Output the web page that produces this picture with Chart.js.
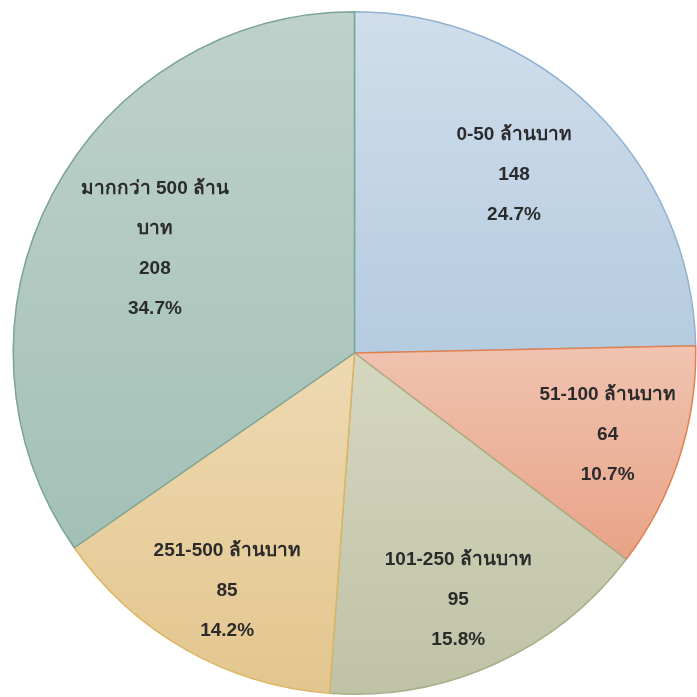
<!DOCTYPE html>
<html>
<head>
<meta charset="utf-8">
<script src="https://cdn.jsdelivr.net/npm/chart.js@4"></script>
<style>
  html, body { margin: 0; padding: 0; background: #fff; }
  #wrap { width: 697px; height: 697px; }
</style>
</head>
<body>
<div id="wrap"><canvas id="chart1"></canvas></div>
<script>
const categories = ['0-50 ล้านบาท', '51-100 ล้านบาท', '101-250 ล้านบาท', '251-500 ล้านบาท', 'มากกว่า 500 ล้านบาท'];
const counts = [148, 64, 95, 85, 208];
const lightColors = ['#d0deeb', '#f0c3b0', '#d5d7c0', '#eed9b2', '#bed2ca'];
const darkColors = ['#b5cbe0', '#e8a387', '#bfc2a5', '#e3c68e', '#a3c0b7'];
const borderColors = ['#8fb1d2', '#e0824f', '#a9ae88', '#dcb665', '#79a394'];

const FONT = 'bold 19px "Liberation Sans", Arial, sans-serif';

// vertical gradient across each slice's own extent
const sliceGradients = {
    id: 'sliceGradients',
    beforeDatasetsDraw(chart) {
        const ctx = chart.ctx;
        chart.getDatasetMeta(0).data.forEach((arc, i) => {
            const p = arc.getProps(['x', 'y', 'startAngle', 'endAngle', 'outerRadius']);
            let ys = [p.y];
            const steps = 40;
            for (let k = 0; k <= steps; k++) {
                const a = p.startAngle + (p.endAngle - p.startAngle) * k / steps;
                ys.push(p.y + Math.sin(a) * p.outerRadius);
            }
            const g = ctx.createLinearGradient(0, Math.min(...ys), 0, Math.max(...ys));
            g.addColorStop(0, lightColors[i]);
            g.addColorStop(1, darkColors[i]);
            arc.options.backgroundColor = g;
        });
    }
};

function wrapText(ctx, text, maxWidth) {
    let parts;
    if (typeof Intl !== 'undefined' && Intl.Segmenter) {
        parts = Array.from(new Intl.Segmenter('th', { granularity: 'word' }).segment(text), s => s.segment);
    } else {
        parts = text.split(/(\s)/);
    }
    const lines = [];
    let cur = '';
    parts.forEach(seg => {
        const test = cur + seg;
        if (ctx.measureText(test.trim()).width > maxWidth && cur.trim()) {
            lines.push(cur.trim());
            cur = seg;
        } else {
            cur = test;
        }
    });
    if (cur.trim()) lines.push(cur.trim());
    return lines;
}

const sliceLabels = {
    id: 'sliceLabels',
    afterDatasetsDraw(chart, args, opts) {
        const ctx = chart.ctx;
        const data = chart.data.datasets[0].data;
        const total = data.reduce((a, b) => a + b, 0);
        ctx.save();
        ctx.font = FONT;
        ctx.fillStyle = '#2b2b2b';
        ctx.textAlign = 'center';
        ctx.textBaseline = 'middle';
        chart.getDatasetMeta(0).data.forEach((arc, i) => {
            const p = arc.getProps(['x', 'y', 'startAngle', 'endAngle', 'outerRadius']);
            const mid = (p.startAngle + p.endAngle) / 2 + opts.shifts[i] * Math.PI / 180;
            const r = p.outerRadius * opts.ratios[i];
            const cx = p.x + Math.cos(mid) * r;
            const cy = p.y + Math.sin(mid) * r;
            const lines = wrapText(ctx, chart.data.labels[i], opts.maxWidth)
                .concat([String(data[i]), (data[i] / total * 100).toFixed(1) + '%']);
            const top = cy - (lines.length - 1) * opts.lineHeight / 2;
            lines.forEach((t, k) => ctx.fillText(t, cx, top + k * opts.lineHeight));
        });
        ctx.restore();
    }
};

const ctx1 = document.getElementById('chart1').getContext('2d');
const myChart1 = new Chart(ctx1, {
    type: 'pie',
    data: {
        labels: categories,
        datasets: [{
            data: counts,
            backgroundColor: lightColors,
            borderColor: borderColors,
            borderWidth: 1.5
        }]
    },
    options: {
        responsive: true,
        maintainAspectRatio: false,
        animation: false,
        layout: { padding: { left: 12, top: 11, right: 0, bottom: 2 } },
        plugins: {
            legend: { display: false },
            tooltip: { enabled: false },
            sliceLabels: {
                ratios: [0.7, 0.78, 0.785, 0.79, 0.66],
                shifts: [-2.5, 0, 1.5, -1.5, 0],
                lineHeight: 40,
                maxWidth: 170
            }
        }
    },
    plugins: [sliceGradients, sliceLabels]
});
</script>
</body>
</html>
